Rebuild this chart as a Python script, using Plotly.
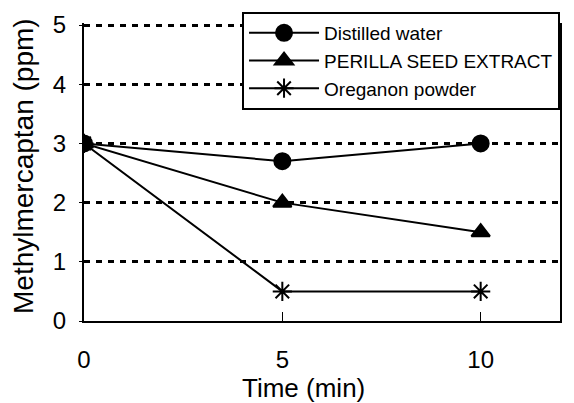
import plotly.graph_objects as go

time_min = [0, 5, 10]
distilled_water = [3.0, 2.7, 3.0]
perilla_seed = [3.0, 2.0, 1.5]
oreganon_powder = [3.0, 0.5, 0.5]

series = [
    ("Distilled water", distilled_water, "circle"),
    ("PERILLA SEED EXTRACT", perilla_seed, "triangle-up"),
    ("Oreganon powder", oreganon_powder, "asterisk-open"),
]

FONT = "Liberation Sans, Arial, sans-serif"

fig = go.Figure()
for name, values, symbol in series:
    fig.add_trace(
        go.Scatter(
            x=time_min,
            y=values,
            name=name,
            legendgroup=name,
            mode="lines+markers",
            line=dict(color="black", width=2),
            marker=dict(symbol=symbol, size=16, color="black",
                        line=dict(color="black", width=2)),
        )
    )

# page body adds an 8px offset, margins compensate for it
fig.update_layout(
    width=574,
    height=403,
    paper_bgcolor="white",
    plot_bgcolor="white",
    margin=dict(l=76, r=22, t=15, b=90, autoexpand=False),
    font=dict(family=FONT, color="black"),
    showlegend=True,
    legend=dict(
        x=0.332, y=1.037, xanchor="left", yanchor="top",
        bgcolor="white", bordercolor="black", borderwidth=2,
        font=dict(size=19, family=FONT),
        itemwidth=70,
        traceorder="grouped", tracegroupgap=0,
    ),
    xaxis=dict(
        range=[0, 12],
        tickvals=[0, 5, 10],
        ticks="inside", ticklen=9, tickcolor="black", tickwidth=1,
        showline=True, linecolor="black", linewidth=2,
        showgrid=False, zeroline=False, automargin=False,
        tickfont=dict(size=24),
        ticklabelstandoff=16,
    ),
    yaxis=dict(
        range=[0, 5.035],
        tickvals=[0, 1, 2, 3, 4, 5],
        ticks="outside", ticklen=3, tickcolor="black",
        showline=True, linecolor="black", linewidth=2, mirror=True,
        showgrid=True, gridcolor="black", gridwidth=3, griddash="6px,6px",
        zeroline=False, automargin=False,
        tickfont=dict(size=24),
        ticklabelstandoff=8,
    ),
    annotations=[
        dict(
            text="Methylmercaptan (ppm)",
            textangle=-90,
            xref="paper", yref="paper", x=0, y=0.5,
            xanchor="center", yanchor="middle",
            xshift=-61, yshift=6, borderpad=0,
            showarrow=False,
            font=dict(size=28, family=FONT),
        ),
        dict(
            text="Time (min)",
            xref="paper", yref="paper", x=0.462, y=0,
            xanchor="center", yanchor="middle",
            yshift=-67, borderpad=0,
            showarrow=False,
            font=dict(size=26, family=FONT),
        ),
    ],
)

fig.write_html("out.html")
